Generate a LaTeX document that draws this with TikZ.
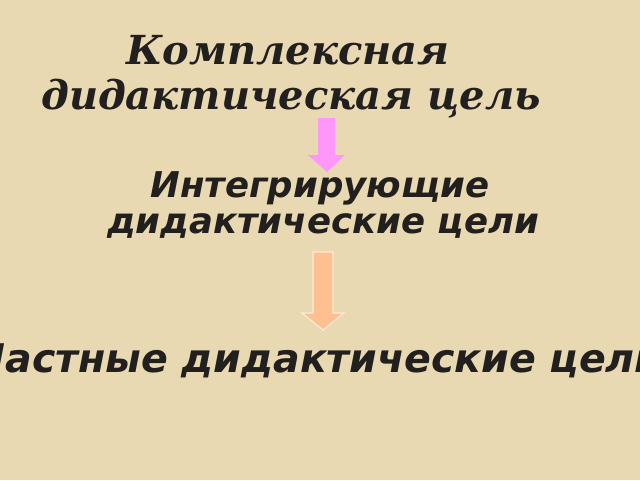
\documentclass[tikz,border=0pt]{standalone}
\usepackage{fontspec}
\newfontfamily\titlefont{DejaVu Serif}[BoldItalicFont={* Bold Italic}]
\newfontfamily\bodyfont{DejaVu Sans}
\definecolor{paper}{RGB}{232,217,178}
\definecolor{ink}{RGB}{34,32,30}
\definecolor{pinkarrow}{RGB}{255,150,250}
\definecolor{peacharrow}{RGB}{255,192,145}
\definecolor{peachedge}{RGB}{255,235,215}
\tikzset{
  titletext/.style={inner sep=0pt, anchor=base, text=ink, font=\titlefont\bfseries\itshape\fontsize{40}{48}\selectfont},
  bodytext/.style={inner sep=0pt, anchor=base, text=ink, font=\bodyfont\bfseries\itshape\fontsize{35.5}{42}\selectfont},
  bigtext/.style={inner sep=0pt, anchor=base, text=ink, font=\bodyfont\bfseries\itshape\fontsize{39.5}{48}\selectfont},
}
\begin{document}
\begin{tikzpicture}[x=1pt,y=-1pt]
\fill[paper] (0,0) rectangle (640,480);
\useasboundingbox (0,0) rectangle (640,480);
\node[titletext] (t1) at (288,64) {Комплексная};
\node[titletext] (t2) at (291,109) {дидактическая цель};
\node[bodytext] (i1) at (320,197) {Интегрирующие};
\node[bodytext] (i2) at (323,233) {дидактические цели};
\node[bigtext] (c1) at (318,372) {Частные дидактические цели};
% pink arrow
\fill[pinkarrow] (318,118) -- (335,118) -- (335,155) -- (345,155) -- (327,172) -- (308,155) -- (318,155) -- cycle;
% peach arrow
\filldraw[fill=peacharrow, draw=peachedge, line width=1.2pt] (313,252) -- (333,252) -- (333,313) -- (344,313) -- (323,330) -- (302,313) -- (313,313) -- cycle;
\end{tikzpicture}
\end{document}
